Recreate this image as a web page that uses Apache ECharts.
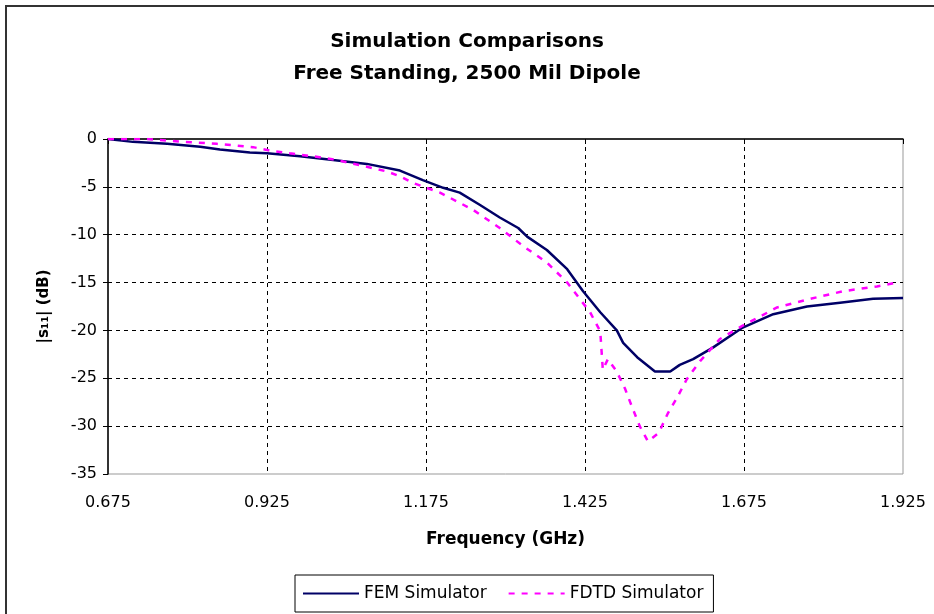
<!DOCTYPE html>
<html>
<head>
<meta charset="utf-8">
<script src="https://cdn.jsdelivr.net/npm/echarts@6/dist/echarts.min.js"></script>
<style>html,body{margin:0;padding:0;background:#fff}#c{width:934px;height:614px}</style>
</head>
<body>
<div id="c"></div>
<script>
// Frequencies (GHz) and |S11| (dB)
const freqFEM = [0.675, 0.714, 0.768, 0.820, 0.851, 0.898, 0.925, 0.977, 1.029, 1.082, 1.134, 1.170, 1.202, 1.228, 1.260, 1.291, 1.320, 1.334, 1.365, 1.397, 1.422, 1.449, 1.475, 1.485, 1.507, 1.535, 1.559, 1.574, 1.595, 1.626, 1.673, 1.721, 1.774, 1.826, 1.878, 1.925];
const s11FEM = [0, -0.3, -0.5, -0.8, -1.1, -1.4, -1.5, -1.8, -2.2, -2.6, -3.3, -4.3, -5.1, -5.6, -6.9, -8.2, -9.3, -10.2, -11.6, -13.6, -15.9, -18.1, -20.0, -21.3, -22.8, -24.3, -24.3, -23.6, -23.0, -21.8, -19.7, -18.3, -17.5, -17.1, -16.7, -16.6];
const freqFDTD = [0.675, 0.736, 0.793, 0.846, 0.878, 0.903, 0.933, 0.961, 1.008, 1.035, 1.082, 1.114, 1.134, 1.155, 1.197, 1.249, 1.291, 1.328, 1.365, 1.397, 1.433, 1.449, 1.453, 1.461, 1.475, 1.488, 1.499, 1.511, 1.524, 1.541, 1.555, 1.570, 1.585, 1.606, 1.637, 1.673, 1.727, 1.779, 1.831, 1.884, 1.916];
const s11FDTD = [0, 0, -0.3, -0.5, -0.7, -0.85, -1.25, -1.5, -1.9, -2.2, -2.9, -3.4, -3.9, -4.6, -5.6, -7.4, -9.3, -11.2, -12.9, -15.0, -18.1, -20.1, -24.1, -23.0, -24.3, -26.1, -28.0, -30.0, -31.6, -30.7, -28.7, -27.0, -25.1, -23.2, -20.9, -19.5, -17.6, -16.7, -15.9, -15.4, -15.0];
const xTicks = [0.675, 0.925, 1.175, 1.425, 1.675, 1.925];
const yMin = -35, yMax = 0, yStep = 5;

const zip = (xs, ys) => xs.map((x, i) => [x, ys[i]]);
const FONT = 'DejaVu Sans';

const chart = echarts.init(document.getElementById('c'), null, {renderer: 'canvas'});
chart.setOption({
  backgroundColor: '#fff',
  animation: false,
  title: {
    text: 'Simulation Comparisons\nFree Standing, 2500 Mil Dipole',
    left: 'center', top: 26, padding: [0, 0, 0, 20],
    textStyle: {fontFamily: FONT, fontSize: 20, fontWeight: 'bold', color: '#000', lineHeight: 32}
  },
  graphic: [{
    type: 'rect', silent: true,
    shape: {x: 6, y: 6, width: 960, height: 640},
    style: {fill: 'none', stroke: '#333', lineWidth: 2}
  }],
  grid: {left: 108, right: 31, top: 139, bottom: 140, show: true, borderColor: '#999', borderWidth: 1},
  legend: {
    left: 295, top: 575,
    padding: [10, 10, 10, 7],
    itemGap: 21, itemWidth: 56, itemHeight: 14,
    borderColor: '#000', borderWidth: 1,
    itemStyle: {opacity: 0},
    textStyle: {fontFamily: FONT, fontSize: 17, color: '#000'},
    data: ['FEM Simulator', 'FDTD Simulator']
  },
  xAxis: {
    type: 'value', min: xTicks[0], max: xTicks[xTicks.length - 1],
    name: 'Frequency (GHz)', nameLocation: 'middle', nameGap: 57,
    nameTextStyle: {fontFamily: FONT, fontSize: 17, fontWeight: 'bold', color: '#000'},
    axisLine: {lineStyle: {color: '#000', width: 1.5}},
    axisTick: {show: true, customValues: xTicks, length: 5, lineStyle: {color: '#000'}},
    axisLabel: {customValues: xTicks, margin: 21, fontFamily: FONT, fontSize: 16, color: '#000',
      formatter: v => v.toFixed(3)},
    splitLine: {show: true, showMinLine: false, showMaxLine: false, lineStyle: {color: '#000', type: [4, 4], width: 1}}
  },
  yAxis: {
    type: 'value', min: yMin, max: yMax, interval: yStep,
    name: '|s₁₁| (dB)', nameLocation: 'middle', nameGap: 56,
    nameTextStyle: {fontFamily: FONT, fontSize: 15, fontWeight: 'bold', color: '#000'},
    axisLine: {show: true, lineStyle: {color: '#000', width: 1.5}},
    axisTick: {show: true, length: 5, lineStyle: {color: '#000'}},
    axisLabel: {margin: 11, fontFamily: FONT, fontSize: 16, color: '#000'},
    splitLine: {show: true, showMinLine: false, showMaxLine: false, lineStyle: {color: '#000', type: [4, 4], width: 1}}
  },
  series: [
    {
      name: 'FEM Simulator', type: 'line', data: zip(freqFEM, s11FEM),
      symbol: 'none', smooth: false, z: 3,
      lineStyle: {color: '#000066', width: 2.5},
      itemStyle: {color: '#000066'}
    },
    {
      name: 'FDTD Simulator', type: 'line', data: zip(freqFDTD, s11FDTD),
      symbol: 'none', smooth: false, z: 4,
      lineStyle: {color: '#ff00ff', width: 2.5, type: [6, 7]},
      itemStyle: {color: '#ff00ff'}
    }
  ]
});
</script>
</body>
</html>
